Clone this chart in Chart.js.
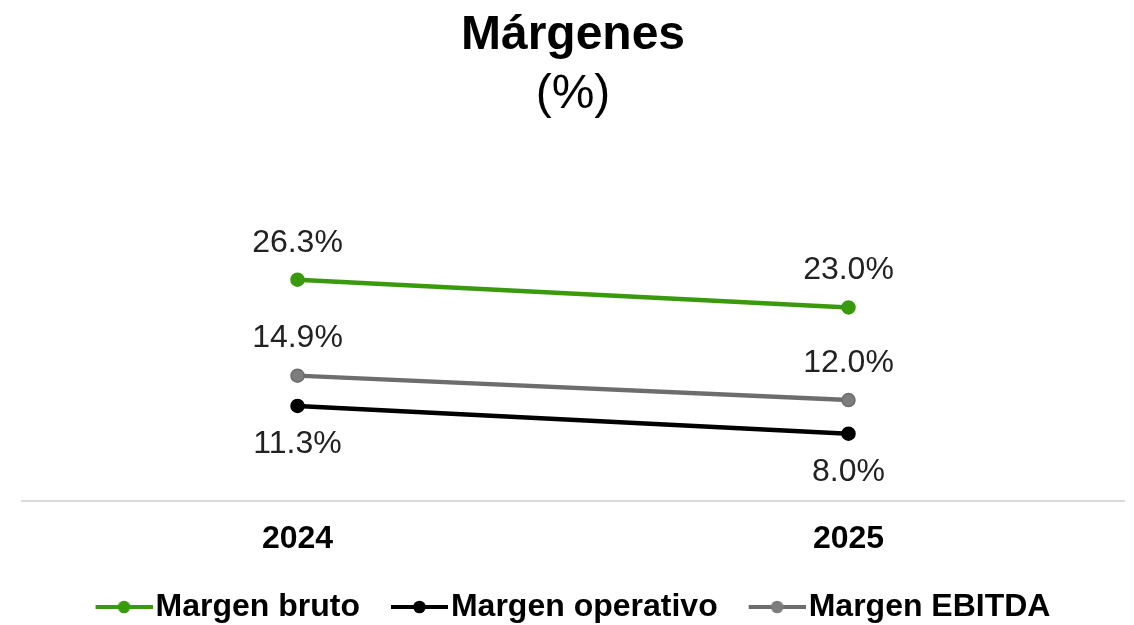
<!DOCTYPE html>
<html><head><meta charset="utf-8">
<script src="https://cdn.jsdelivr.net/npm/chart.js@4"></script>
<style>html,body{margin:0;padding:0;background:#fff}#wrap{width:1134px;height:625px;position:relative}</style>
</head><body><div id="wrap"><canvas id="c"></canvas></div>
<script>
const categories = ['2024', '2025'];
const margenBruto = [26.3, 23.0];
const margenOperativo = [11.3, 8.0];
const margenEbitda = [14.9, 12.0];
const seriesNames = ['Margen bruto', 'Margen operativo', 'Margen EBITDA'];
const titleText = 'Márgenes';
const subtitleText = '(%)';

const FONT = '"Liberation Sans", Arial, Helvetica, sans-serif';
const GREEN = '#3a9a0e', BLACK = '#000000', GRAY = '#6d6d6d', GRAYFILL = '#7d7d7d';

function legendIcon(color, fill) {
  const c = document.createElement('canvas');
  c.width = 70; c.height = 16;
  const g = c.getContext('2d');
  g.strokeStyle = color; g.lineWidth = 4;
  g.beginPath(); g.moveTo(13, 8); g.lineTo(70, 8); g.stroke();
  g.fillStyle = fill;
  g.beginPath(); g.arc(41.5, 8, 6.3, 0, Math.PI * 2); g.fill();
  return c;
}
const icons = [legendIcon(GREEN, GREEN), legendIcon(BLACK, BLACK), legendIcon(GRAY, GRAYFILL)];

const valueLabels = {
  id: 'valueLabels',
  afterDatasetsDraw(chart) {
    const ctx = chart.ctx;
    ctx.save();
    ctx.font = '32px ' + FONT;
    ctx.fillStyle = '#222';
    ctx.textAlign = 'center';
    ctx.textBaseline = 'middle';
    chart.data.datasets.forEach((ds, i) => {
      const meta = chart.getDatasetMeta(i);
      meta.data.forEach((pt, j) => {
        const v = ds.data[j];
        const y = ds.labelSide === 'below' ? pt.y + 38.5 : pt.y - 37;
        ctx.fillText(v.toFixed(1) + '%', pt.x, y);
      });
    });
    ctx.restore();
  }
};

function ds(label, data, color, fill, side) {
  return {
    label, data, labelSide: side,
    borderColor: color, backgroundColor: fill,
    pointBackgroundColor: fill, pointBorderColor: color,
    borderWidth: 4.5, pointRadius: 6.5, pointBorderWidth: 1.5,
    pointHoverRadius: 6.5, tension: 0, clip: false
  };
}

new Chart(document.getElementById('c'), {
  type: 'line',
  data: {
    labels: categories,
    datasets: [
      ds(seriesNames[0], margenBruto, GREEN, GREEN, 'above'),
      ds(seriesNames[1], margenOperativo, BLACK, BLACK, 'below'),
      ds(seriesNames[2], margenEbitda, GRAY, GRAYFILL, 'above')
    ]
  },
  options: {
    responsive: true,
    maintainAspectRatio: false,
    animation: false,
    layout: { padding: { left: 22, right: 10, top: 0, bottom: 0 } },
    scales: {
      x: {
        offset: true,
        grid: { display: false, drawTicks: false },
        border: { display: true, color: '#d9d9d9', width: 2 },
        ticks: { color: '#000', padding: 19, font: { family: FONT, size: 32, weight: 'bold' } },
        afterFit(scale) { scale.height = 59; }
      },
      y: { display: false, min: 0, max: 35 }
    },
    plugins: {
      title: {
        display: true, text: titleText, color: '#000',
        font: { family: FONT, size: 48, weight: 'bold' },
        padding: { top: 6.7, bottom: 0 }
      },
      subtitle: {
        display: true, text: subtitleText, color: '#000',
        font: { family: FONT, size: 48, weight: 'normal' },
        padding: { top: 1.7, bottom: 82.9 }
      },
      legend: {
        position: 'bottom',
        maxHeight: 65,
        labels: {
          color: '#000',
          font: { family: FONT, size: 32, weight: 'bold' },
          usePointStyle: true,
          pointStyleWidth: 44,
          boxHeight: 32,
          padding: 31,
          generateLabels(chart) {
            const items = Chart.defaults.plugins.legend.labels.generateLabels(chart);
            items.forEach((it, i) => { it.pointStyle = icons[i]; });
            return items;
          }
        }
      },
      tooltip: { enabled: false }
    }
  },
  plugins: [valueLabels]
});
</script>
</body></html>
